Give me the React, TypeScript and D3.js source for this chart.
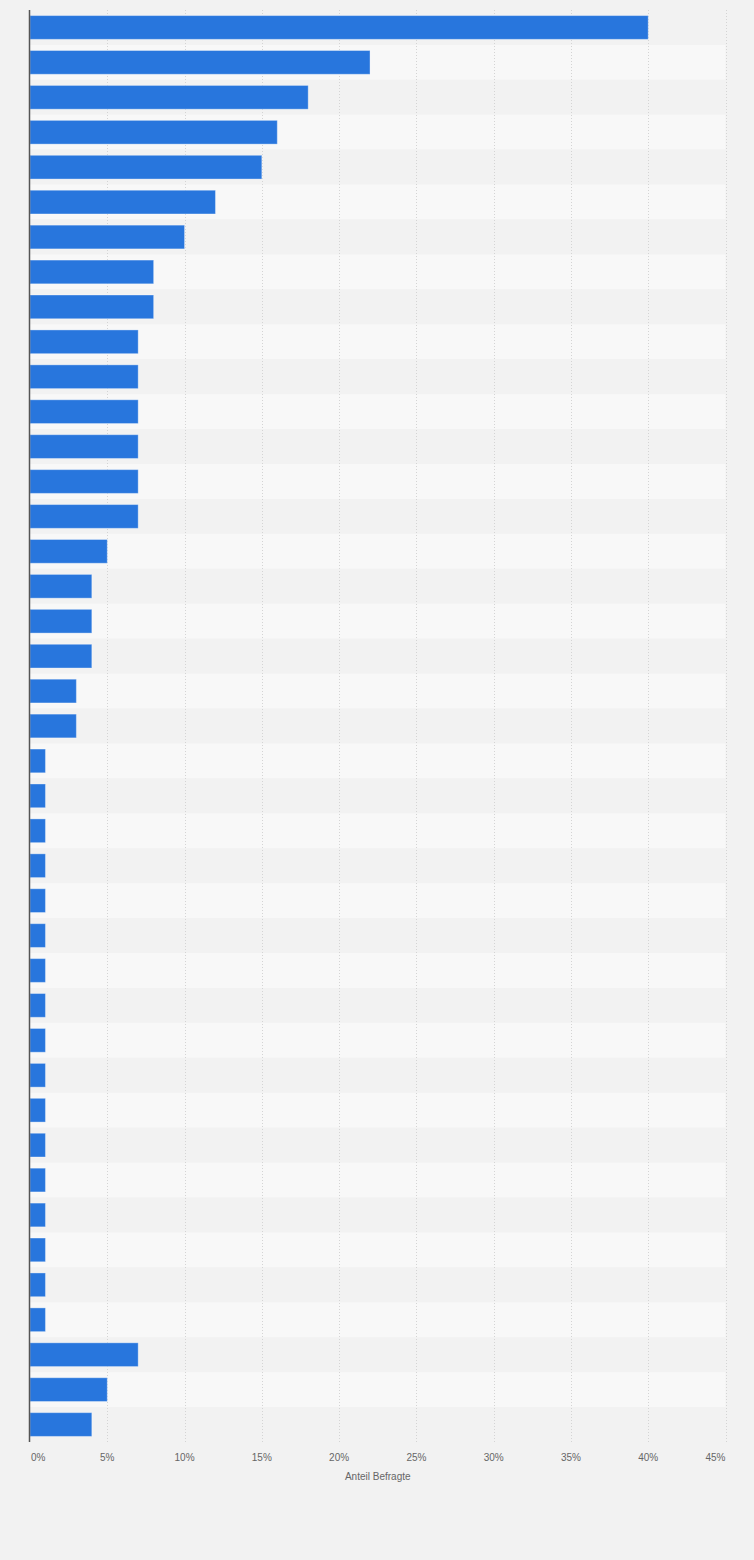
import React from "react";
import * as d3 from "d3";

const categories: string[] = Array.from({ length: 41 }, (_, i) => `Kategorie ${i + 1}`);
const values: number[] = [
  40, 22, 18, 16, 15, 12, 10, 8, 8, 7, 7, 7, 7, 7, 7, 5, 4, 4, 4, 3, 3,
  1, 1, 1, 1, 1, 1, 1, 1, 1, 1, 1, 1, 1, 1, 1, 1, 1,
  7, 5, 4,
];
const tickValues: number[] = [0, 5, 10, 15, 20, 25, 30, 35, 40, 45];
const axisTitle = "Anteil Befragte";

const W = 754;
const H = 1560;
const left = 30;
const right = 725.5;
const top = 10;
const bottom = 1442;

export default function App() {
  const x = d3.scaleLinear().domain([0, 45]).range([left, right]);
  const y = d3
    .scaleBand<string>()
    .domain(categories)
    .range([top, bottom])
    .paddingInner(0.32)
    .paddingOuter(0.16);
  const step = y.step();
  const font = "'Liberation Sans', Arial, sans-serif";

  return (
    <svg
      width={W}
      height={H}
      style={{ position: "absolute", left: 0, top: 0, display: "block" }}
    >
      <rect x={0} y={0} width={W} height={H} fill="#f2f2f2" />
      {categories.map((c, i) => (
        <rect
          key={"band" + i}
          x={left}
          y={top + i * step}
          width={right - left}
          height={step}
          fill={i % 2 === 0 ? "#f2f2f2" : "#f8f8f8"}
        />
      ))}
      {tickValues.map((t) =>
        t === 0 ? null : (
          <line
            key={"g" + t}
            x1={Math.round(x(t)) + 0.5}
            x2={Math.round(x(t)) + 0.5}
            y1={top}
            y2={bottom}
            stroke="#d4d4d4"
            strokeWidth={1}
            strokeDasharray="1,2"
          />
        )
      )}
      {categories.map((c, i) => (
        <rect
          key={"bar" + i}
          x={x(0)}
          y={y(c)!}
          width={x(values[i]) - x(0)}
          height={y.bandwidth()}
          fill="#2876dd"
          stroke="#ffffff"
          strokeOpacity={0.35}
          strokeWidth={1}
        />
      ))}
      <line
        x1={left - 0.5}
        x2={left - 0.5}
        y1={top}
        y2={bottom}
        stroke="#555555"
        strokeWidth={1.5}
      />
      {tickValues.map((t, i) => {
        const anchor = i === 0 ? "start" : i === tickValues.length - 1 ? "end" : "middle";
        const tx = i === 0 ? x(t) + 1 : i === tickValues.length - 1 ? x(t) : x(t);
        return (
          <text
            key={"t" + t}
            x={tx}
            y={1461}
            textAnchor={anchor}
            fontFamily={font}
            fontSize={10}
            fill="#666666"
          >
            {t + "%"}
          </text>
        );
      })}
      <text
        x={(left + right) / 2}
        y={1480}
        textAnchor="middle"
        fontFamily={font}
        fontSize={10}
        fill="#666666"
      >
        {axisTitle}
      </text>
    </svg>
  );
}
